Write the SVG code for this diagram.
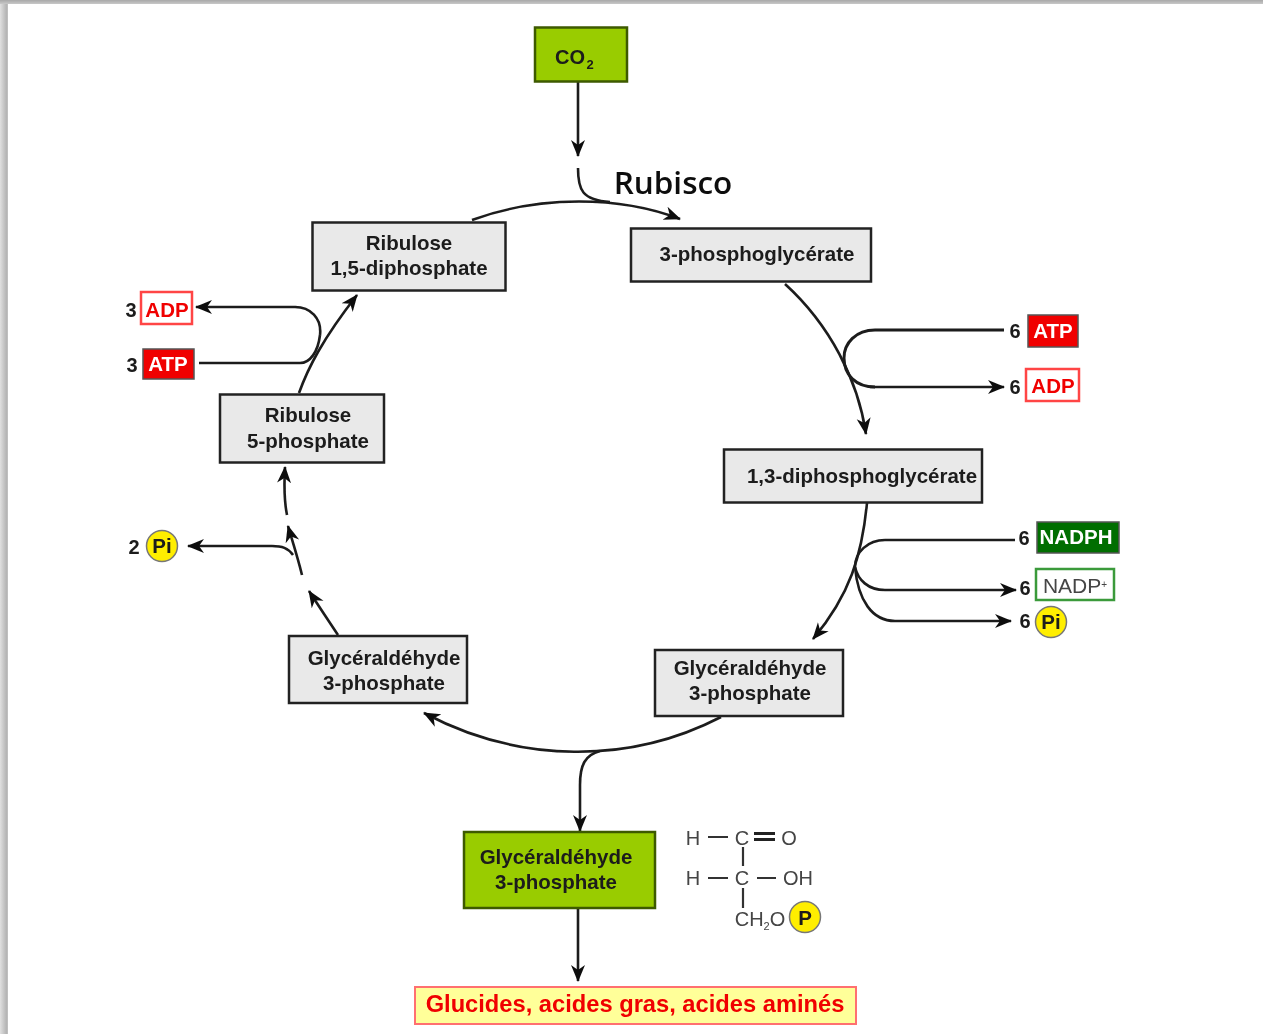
<svg xmlns="http://www.w3.org/2000/svg" width="1263" height="1034" viewBox="0 0 1263 1034">
<defs>
<linearGradient id="sl" x1="0" x2="1" y1="0" y2="0"><stop offset="0" stop-color="#e0e0e0"/><stop offset="0.8" stop-color="#b4b4b4"/><stop offset="1" stop-color="#c4c4c4"/></linearGradient>
<linearGradient id="st" x1="0" x2="0" y1="0" y2="1"><stop offset="0" stop-color="#a8a8a8"/><stop offset="1" stop-color="#c8c8c8"/></linearGradient>
<marker id="a" viewBox="0 0 18 16" refX="16" refY="8" markerWidth="18" markerHeight="16" markerUnits="userSpaceOnUse" orient="auto"><path d="M0 1L17 8L0 15L5 8Z" fill="#111"/></marker>
<filter id="b" x="0" y="0" width="1263" height="1034" filterUnits="userSpaceOnUse"><feGaussianBlur stdDeviation="0.7"/></filter>
</defs>
<style>
text{font-family:"Liberation Sans",Arial,sans-serif;font-weight:bold;font-size:20.500px;fill:#1a1a1a;text-anchor:middle}
.box rect{fill:#e9e9e9;stroke:#222;stroke-width:2.5}
.green rect{fill:#99cc00;stroke:#3c5a00;stroke-width:2.5}
.c path{fill:none;stroke:#1c1c1c;stroke-width:2.6}
.c path.m{marker-end:url(#a)}
.n{font-size:20px}
.w{fill:#fff}.r{fill:#f00000}
.chem{font-weight:normal;fill:#444;font-size:20px}
.rf{fill:#f00000;stroke:#555;stroke-width:1.5}
.ro{fill:#fff;stroke:#f44;stroke-width:2.5}
.pi{fill:#ffee00;stroke:#777;stroke-width:1.5}
</style>
<rect width="1263" height="1034" fill="#fff"/>
<rect x="0" y="0" width="8" height="1034" fill="url(#sl)"/>
<rect x="0" y="0" width="1263" height="4" fill="url(#st)"/>
<g filter="url(#b)">
<g class="c" id="connectors">
<path class="m" d="M578 82V156"/>
<path d="M578 168C578 190 582 200 610 202"/>
<path class="m" d="M472 220C540 195 620 196 680 219"/>
<path class="m" d="M785 284C830 325 858 380 866 434"/>
<path d="M1004 330H875C856 330 844 343 844 358C844 375 856 387 875 387" style="stroke-width:3"/>
<path class="m" d="M870 387H1004"/>
<path class="m" d="M867 503C862 555 850 595 813 639"/>
<path d="M1015 540H885C868 540 855 552 855 567"/>
<path class="m" d="M855 567C858 580 868 590 885 590H1016"/>
<path class="m" d="M855 567C858 600 872 621 895 621H1011"/>
<path class="m" d="M721 717C630 764 520 764 424 713"/>
<path class="m" d="M600 751C585 755 580 765 580 785V831"/>
<path class="m" d="M578 909V981"/>
<path class="m" d="M338 635C328 620 318 605 309 591"/>
<path class="m" d="M302 575C297 555 292 540 288 526"/>
<path class="m" d="M287 515C284 500 284 485 285 467"/>
<path class="m" d="M293 555C288 548 282 546 272 546H188"/>
<path class="m" d="M299 393C308 368 322 340 357 295"/>
<path class="m" d="M320 335C322 318 310 307 295 307H196"/>
<path d="M199 363H300C310 363 318 352 320 335"/>
</g>
<g id="co2" class="green"><rect x="535" y="27.500" width="92" height="54"/><text x="570" y="64" style="font-size:20px">CO</text><text x="590" y="69" style="font-size:13px">2</text></g>
<text id="rubisco" x="673" y="194" style="font-family:'Open Sans',sans-serif;font-size:31.500px;font-weight:600;fill:#111">Rubisco</text>
<g id="r15" class="box"><rect x="312.500" y="222.500" width="193" height="68"/><text x="409" y="250">Ribulose</text><text x="409" y="275">1,5-diphosphate</text></g>
<g id="pg3" class="box"><rect x="631" y="228.500" width="240" height="53"/><text x="757" y="261">3-phosphoglycérate</text></g>
<g id="dpg" class="box"><rect x="724" y="449.500" width="258" height="53"/><text x="862" y="483">1,3-diphosphoglycérate</text></g>
<g id="r5" class="box"><rect x="220" y="394.500" width="164" height="68"/><text x="308" y="422">Ribulose</text><text x="308" y="448">5-phosphate</text></g>
<g id="gl1" class="box"><rect x="289" y="636" width="178" height="67"/><text x="384" y="665">Glycéraldéhyde</text><text x="384" y="690">3-phosphate</text></g>
<g id="gl2" class="box"><rect x="655" y="650" width="188" height="66"/><text x="750" y="675">Glycéraldéhyde</text><text x="750" y="700">3-phosphate</text></g>
<g id="gl3" class="green"><rect x="464" y="832" width="191" height="76"/><text x="556" y="864">Glycéraldéhyde</text><text x="556" y="889">3-phosphate</text></g>
<g id="end"><rect x="415" y="987" width="441" height="37" fill="#ffff99" stroke="#ff7070" stroke-width="2"/><text x="635" y="1012" class="r" style="font-size:23.700px">Glucides, acides gras, acides aminés</text></g>
<g id="adp3"><text x="131" y="317" class="n">3</text><rect class="ro" x="141" y="292" width="51" height="32"/><text x="167" y="317" class="r">ADP</text></g>
<g id="atp3"><text x="132" y="372" class="n">3</text><rect class="rf" x="143" y="349" width="51" height="30"/><text x="168" y="371" class="w">ATP</text></g>
<g id="pi2"><text x="134" y="554" class="n">2</text><circle class="pi" cx="162" cy="546" r="15.500"/><text x="162" y="553">Pi</text></g>
<g id="atp6"><text x="1015" y="338" class="n">6</text><rect class="rf" x="1028" y="315" width="50" height="32"/><text x="1053" y="338" class="w">ATP</text></g>
<g id="adp6"><text x="1015" y="394" class="n">6</text><rect class="ro" x="1026" y="369" width="53" height="32"/><text x="1053" y="393" class="r">ADP</text></g>
<g id="nadph"><text x="1024" y="545" class="n">6</text><rect x="1037" y="522" width="82" height="31" fill="#006e00" stroke="#555" stroke-width="1.500"/><text x="1076" y="544" class="w" style="font-size:20.500px">NADPH</text></g>
<g id="nadp"><text x="1025" y="595" class="n">6</text><rect x="1036" y="569" width="78" height="31" fill="#fff" stroke="#3a9a3a" stroke-width="2.500"/><text x="1075" y="593" style="font-weight:normal;fill:#444;font-size:21px">NADP<tspan dy="-5" font-size="10">+</tspan></text></g>
<g id="pi6"><text x="1025" y="628" class="n">6</text><circle class="pi" cx="1051" cy="622" r="15.500"/><text x="1051" y="629">Pi</text></g>
<g id="formula">
<text class="chem" x="693" y="845">H</text><text class="chem" x="742" y="845">C</text><text class="chem" x="789" y="845">O</text><text class="chem" x="693" y="885">H</text><text class="chem" x="742" y="885">C</text><text class="chem" x="798" y="885">OH</text><text class="chem" x="760" y="926">CH<tspan dy="4" font-size="11">2</tspan><tspan dy="-4">O</tspan></text>
<path d="M708 837H728M708 878H728M757 878H776M743 847V866M743 888V908" stroke="#333" stroke-width="2.200" fill="none"/>
<path d="M754 833.500H775M754 839.500H775" stroke="#222" stroke-width="3" fill="none"/>
<circle class="pi" cx="805" cy="917" r="15.500"/><text x="805" y="925">P</text>
</g>
</g>
</svg>
